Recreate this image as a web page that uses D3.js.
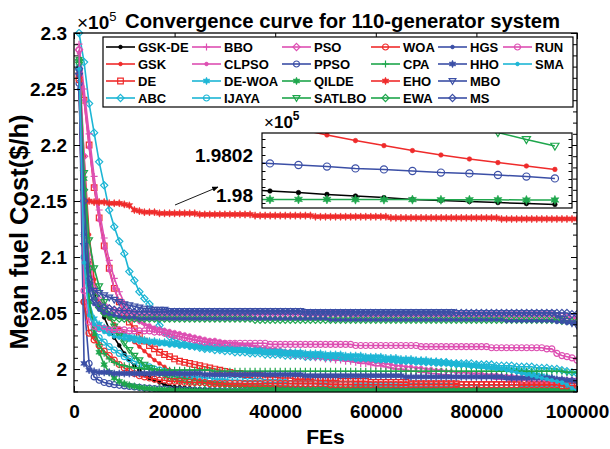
<!DOCTYPE html>
<html>
<head>
<meta charset="utf-8">
<script src="https://cdn.jsdelivr.net/npm/d3@7"></script>
<style>
  body { margin: 0; background: #fff; }
  svg { display: block; font-family: "Liberation Sans", Arial, sans-serif; font-weight: bold; }
</style>
</head>
<body>
<svg id="chart" width="610" height="449"></svg>
<script>
// FEs sampled every 1000 evaluations
var fes = [1000,2000,3000,4000,5000,6000,7000,8000,9000,10000,
  11000,12000,13000,14000,15000,16000,17000,18000,19000,20000,
  21000,22000,23000,24000,25000,26000,27000,28000,29000,30000,
  31000,32000,33000,34000,35000,36000,37000,38000,39000,40000,
  41000,42000,43000,44000,45000,46000,47000,48000,49000,50000,
  51000,52000,53000,54000,55000,56000,57000,58000,59000,60000,
  61000,62000,63000,64000,65000,66000,67000,68000,69000,70000,
  71000,72000,73000,74000,75000,76000,77000,78000,79000,80000,
  81000,82000,83000,84000,85000,86000,87000,88000,89000,90000,
  91000,92000,93000,94000,95000,96000,97000,98000,99000,100000];

// mean fuel cost, in units of 1e5 $/h
var gskde = [2.268,2.160,2.095,2.068,2.055,2.046,2.036,2.028,2.021,2.014,
  2.008,2.003,1.999,1.995,1.992,1.990,1.988,1.986,1.985,1.984,
  1.9838,1.9833,1.9829,1.9825,1.9822,1.9819,1.9816,1.9814,1.9812,1.9810,
  1.9808,1.9807,1.9806,1.9805,1.9805,1.9804,1.9804,1.9804,1.9803,1.9803,
  1.9803,1.9803,1.9803,1.9803,1.9803,1.9802,1.9802,1.9802,1.9802,1.9802,
  1.9802,1.9802,1.9802,1.9802,1.9802,1.9802,1.9802,1.9802,1.9802,1.9802,
  1.9802,1.9802,1.9802,1.9802,1.9802,1.9802,1.9802,1.9801,1.9801,1.9801,
  1.9801,1.9801,1.9801,1.9801,1.9801,1.9801,1.9801,1.9801,1.9801,1.9801,
  1.9801,1.9801,1.9801,1.9801,1.9800,1.9800,1.9800,1.9800,1.980028,1.98002,
  1.980012,1.980003,1.979995,1.979987,1.979978,1.979972,1.979967,1.979962,1.979957,1.979953];
var gsk = [2.270,2.190,2.120,2.080,2.060,2.050,2.045,2.040,2.036,2.032,
  2.028,2.024,2.020,2.016,2.012,2.008,2.005,2.002,1.999,1.997,
  1.995,1.993,1.992,1.991,1.990,1.989,1.988,1.987,1.9865,1.986,
  1.9855,1.985,1.9847,1.9844,1.9841,1.9839,1.9837,1.9835,1.9834,1.9833,
  1.9832,1.9830,1.9828,1.9826,1.9824,1.9822,1.9820,1.9818,1.9816,1.9815,
  1.9814,1.9813,1.9812,1.9811,1.9810,1.9809,1.9809,1.9808,1.9808,1.9808,
  1.9807,1.9807,1.9807,1.9807,1.9806,1.9806,1.9806,1.9806,1.9806,1.9806,
  1.9806,1.9806,1.9806,1.9806,1.9806,1.9805,1.9805,1.9805,1.9805,1.9805,
  1.98049,1.98048,1.98047,1.98046,1.98045,1.98044,1.98043,1.98042,1.98039,1.98036,
  1.98033,1.9803,1.980272,1.980247,1.980222,1.9802,1.98018,1.980162,1.980145,1.980128];
var de = [2.262,2.240,2.200,2.162,2.135,2.110,2.090,2.072,2.060,2.050,
  2.042,2.036,2.030,2.025,2.021,2.018,2.015,2.013,2.011,2.009,
  2.007,2.006,2.005,2.004,2.003,2.002,2.001,2.000,1.999,1.998,
  1.997,1.996,1.996,1.995,1.995,1.994,1.994,1.993,1.993,1.993,
  1.992,1.992,1.992,1.991,1.991,1.991,1.991,1.990,1.990,1.990,
  1.990,1.990,1.989,1.989,1.989,1.989,1.989,1.989,1.988,1.988,
  1.988,1.988,1.988,1.988,1.988,1.988,1.987,1.987,1.987,1.987,
  1.987,1.987,1.987,1.987,1.987,1.987,1.986,1.986,1.986,1.986,
  1.986,1.986,1.986,1.986,1.986,1.986,1.986,1.986,1.985,1.985,
  1.985,1.985,1.985,1.985,1.985,1.985,1.985,1.985,1.985,1.985];
var abc = [2.300,2.274,2.237,2.211,2.185,2.164,2.142,2.127,2.114,2.103,
  2.087,2.079,2.069,2.063,2.058,2.048,2.039,2.033,2.029,2.026,
  2.024,2.022,2.021,2.020,2.019,2.018,2.018,2.017,2.017,2.016,
  2.016,2.015,2.015,2.015,2.014,2.014,2.014,2.013,2.013,2.013,
  2.013,2.012,2.012,2.012,2.012,2.011,2.011,2.011,2.011,2.010,
  2.010,2.010,2.010,2.010,2.009,2.009,2.009,2.009,2.009,2.008,
  2.008,2.008,2.008,2.008,2.007,2.007,2.007,2.007,2.007,2.006,
  2.006,2.006,2.006,2.006,2.005,2.005,2.005,2.005,2.005,2.004,
  2.004,2.004,2.004,2.003,2.003,2.003,2.003,2.002,2.002,2.002,
  2.002,2.001,2.001,2.001,2.000,2.000,1.999,1.998,1.997,1.996];
var bbo = [2.290,2.250,2.210,2.172,2.142,2.117,2.097,2.081,2.069,2.059,
  2.052,2.047,2.043,2.040,2.037,2.035,2.033,2.032,2.031,2.030,
  2.029,2.028,2.027,2.026,2.025,2.024,2.023,2.023,2.022,2.021,
  2.020,2.020,2.019,2.018,2.018,2.017,2.016,2.016,2.015,2.015,
  2.014,2.014,2.013,2.012,2.012,2.011,2.011,2.010,2.010,2.009,
  2.009,2.008,2.008,2.007,2.007,2.006,2.005,2.005,2.004,2.003,
  2.003,2.002,2.001,2.000,2.000,1.999,1.998,1.998,1.997,1.997,
  1.996,1.996,1.995,1.995,1.994,1.994,1.994,1.993,1.993,1.993,
  1.992,1.992,1.992,1.991,1.991,1.991,1.990,1.990,1.990,1.990,
  1.989,1.989,1.989,1.989,1.988,1.988,1.988,1.988,1.988,1.988];
var clpso = [2.282,2.240,2.198,2.163,2.133,2.108,2.088,2.072,2.060,2.052,
  2.047,2.044,2.042,2.040,2.039,2.037,2.036,2.035,2.034,2.033,
  2.032,2.031,2.030,2.029,2.028,2.027,2.026,2.026,2.025,2.024,
  2.023,2.023,2.022,2.021,2.021,2.020,2.019,2.019,2.018,2.018,
  2.017,2.016,2.016,2.015,2.015,2.014,2.013,2.013,2.012,2.012,
  2.011,2.010,2.010,2.009,2.009,2.008,2.007,2.007,2.006,2.006,
  2.005,2.005,2.004,2.003,2.003,2.002,2.002,2.001,2.001,2.000,
  2.000,1.999,1.999,1.998,1.998,1.997,1.997,1.997,1.996,1.996,
  1.996,1.995,1.995,1.995,1.994,1.994,1.994,1.993,1.993,1.993,
  1.993,1.992,1.992,1.992,1.992,1.991,1.991,1.991,1.991,1.991];
var dewoa = [2.270,2.120,2.060,2.045,2.040,2.037,2.035,2.033,2.031,2.030,
  2.029,2.028,2.027,2.026,2.025,2.025,2.024,2.024,2.023,2.023,
  2.022,2.022,2.021,2.021,2.021,2.020,2.020,2.020,2.019,2.019,
  2.019,2.018,2.018,2.018,2.017,2.017,2.017,2.016,2.016,2.016,
  2.016,2.015,2.015,2.015,2.015,2.014,2.014,2.014,2.014,2.013,
  2.013,2.013,2.013,2.012,2.012,2.012,2.012,2.011,2.011,2.011,
  2.011,2.010,2.010,2.010,2.009,2.009,2.009,2.008,2.008,2.008,
  2.007,2.007,2.006,2.006,2.005,2.005,2.004,2.004,2.003,2.003,
  2.002,2.002,2.001,2.001,2.000,2.000,1.999,1.999,1.998,1.997,
  1.996,1.995,1.994,1.993,1.992,1.990,1.987,1.985,1.983,1.982];
var ijaya = [2.268,2.100,2.050,2.035,2.028,2.024,2.020,2.017,2.014,2.011,
  2.009,2.007,2.005,2.003,2.002,2.000,1.999,1.998,1.997,1.996,
  1.995,1.994,1.994,1.993,1.993,1.992,1.992,1.991,1.991,1.991,
  1.990,1.990,1.990,1.989,1.989,1.989,1.989,1.988,1.988,1.988,
  1.988,1.988,1.987,1.987,1.987,1.987,1.987,1.987,1.986,1.986,
  1.986,1.986,1.986,1.986,1.986,1.985,1.985,1.985,1.985,1.985,
  1.985,1.985,1.985,1.985,1.984,1.984,1.984,1.984,1.984,1.984,
  1.984,1.984,1.984,1.984,1.984,1.983,1.983,1.983,1.983,1.983,
  1.983,1.983,1.983,1.983,1.983,1.983,1.983,1.983,1.982,1.982,
  1.982,1.982,1.982,1.982,1.982,1.982,1.982,1.982,1.982,1.982];
var pso = [2.285,2.190,2.100,2.072,2.062,2.057,2.054,2.052,2.051,2.050,
  2.050,2.050,2.049,2.049,2.049,2.049,2.049,2.049,2.049,2.049,
  2.049,2.049,2.049,2.049,2.049,2.049,2.049,2.049,2.049,2.049,
  2.049,2.049,2.049,2.049,2.049,2.049,2.049,2.049,2.049,2.049,
  2.049,2.049,2.049,2.049,2.049,2.049,2.049,2.049,2.049,2.049,
  2.049,2.049,2.049,2.049,2.049,2.048,2.048,2.048,2.048,2.048,
  2.048,2.048,2.048,2.048,2.048,2.048,2.048,2.048,2.048,2.048,
  2.048,2.048,2.048,2.048,2.048,2.048,2.048,2.048,2.048,2.048,
  2.048,2.048,2.048,2.048,2.048,2.048,2.048,2.048,2.048,2.048,
  2.048,2.048,2.048,2.048,2.048,2.047,2.047,2.046,2.046,2.045];
var ppso = [2.255,2.060,2.005,1.993,1.990,1.988,1.987,1.986,1.9855,1.985,
  1.9845,1.984,1.9836,1.9832,1.9829,1.9826,1.9823,1.9820,1.9818,1.9816,
  1.9814,1.9812,1.9810,1.9809,1.9808,1.9807,1.9807,1.9806,1.9806,1.9806,
  1.9806,1.9806,1.9806,1.9806,1.9806,1.9806,1.9806,1.9806,1.9806,1.9806,
  1.9805,1.9805,1.9805,1.9805,1.9805,1.9805,1.9805,1.9805,1.9805,1.9805,
  1.9805,1.9805,1.9805,1.9805,1.9805,1.9804,1.9804,1.9804,1.9804,1.9804,
  1.9804,1.9804,1.9804,1.9803,1.9803,1.9803,1.9803,1.9803,1.9803,1.9803,
  1.9803,1.9803,1.9802,1.9802,1.9802,1.9802,1.9802,1.9802,1.9802,1.9802,
  1.9802,1.9802,1.9802,1.9802,1.9802,1.9802,1.9802,1.9802,1.980166,1.980158,
  1.98015,1.980142,1.980133,1.980128,1.98012,1.980112,1.980108,1.9801,1.980092,1.980083];
var qilde = [2.275,2.170,2.060,2.030,2.015,2.004,1.997,1.992,1.989,1.987,
  1.9855,1.9845,1.9837,1.9830,1.9825,1.9821,1.9818,1.9815,1.9813,1.9811,
  1.9810,1.9809,1.9808,1.9807,1.9806,1.9805,1.9805,1.9804,1.9804,1.9803,
  1.9803,1.9803,1.9802,1.9802,1.9802,1.9801,1.9801,1.9801,1.9801,1.9801,
  1.9801,1.98008,1.98007,1.98006,1.98005,1.98004,1.98004,1.98003,1.98003,1.98002,
  1.98002,1.98002,1.98001,1.98001,1.98001,1.98001,1.98,1.98,1.98,1.98,
  1.98,1.98,1.979998,1.979996,1.979994,1.979992,1.97999,1.979988,1.979986,1.979985,
  1.979984,1.979983,1.979982,1.979981,1.97998,1.97998,1.979979,1.979979,1.979979,1.979978,
  1.979978,1.979978,1.979978,1.979978,1.979978,1.979978,1.979978,1.979978,1.979978,1.979978,
  1.979978,1.979978,1.979977,1.979977,1.979977,1.979976,1.979976,1.979976,1.979975,1.979975];
var satlbo = [2.272,2.175,2.115,2.090,2.074,2.060,2.048,2.038,2.030,2.023,
  2.017,2.012,2.008,2.004,2.001,1.998,1.996,1.994,1.992,1.991,
  1.990,1.9893,1.9887,1.9881,1.9876,1.9871,1.9866,1.9862,1.9858,1.9854,
  1.9851,1.9848,1.9845,1.9842,1.9839,1.9837,1.9835,1.9833,1.9831,1.9829,
  1.9827,1.9826,1.9825,1.9824,1.9823,1.9822,1.9822,1.9821,1.9821,1.9820,
  1.98197,1.98193,1.98190,1.98186,1.98183,1.98179,1.98176,1.98172,1.98169,1.98165,
  1.98162,1.98158,1.98155,1.98151,1.98148,1.98144,1.98141,1.98137,1.98134,1.9813,
  1.98127,1.98123,1.9812,1.98116,1.98113,1.98109,1.98106,1.98102,1.98099,1.98095,
  1.98091,1.98088,1.98084,1.98081,1.98077,1.98074,1.9807,1.98067,1.98063,1.98059,
  1.980555,1.98052,1.980485,1.98045,1.980415,1.98038,1.980346,1.980312,1.980278,1.980245];
var woa = [2.258,2.060,2.032,2.026,2.021,2.016,2.012,2.008,2.004,2.001,
  1.998,1.996,1.994,1.993,1.992,1.991,1.990,1.990,1.989,1.989,
  1.989,1.988,1.988,1.988,1.988,1.988,1.987,1.987,1.987,1.987,
  1.987,1.987,1.987,1.987,1.987,1.987,1.987,1.987,1.987,1.987,
  1.987,1.987,1.987,1.987,1.987,1.987,1.987,1.987,1.987,1.987,
  1.986,1.986,1.986,1.986,1.986,1.986,1.986,1.986,1.986,1.986,
  1.986,1.986,1.986,1.986,1.986,1.986,1.986,1.986,1.986,1.986,
  1.986,1.986,1.986,1.986,1.986,1.986,1.986,1.986,1.986,1.986,
  1.986,1.986,1.986,1.986,1.986,1.986,1.986,1.986,1.986,1.986,
  1.986,1.986,1.986,1.986,1.986,1.986,1.985,1.985,1.985,1.985];
var cpa = [2.278,2.120,2.062,2.035,2.022,2.014,2.009,2.006,2.004,2.003,
  2.002,2.001,2.001,2.000,2.000,2.000,1.999,1.999,1.999,1.999,
  1.999,1.999,1.999,1.999,1.999,1.999,1.999,1.998,1.998,1.998,
  1.998,1.998,1.998,1.998,1.998,1.998,1.998,1.998,1.998,1.998,
  1.998,1.998,1.998,1.998,1.998,1.998,1.998,1.998,1.998,1.998,
  1.998,1.998,1.998,1.998,1.998,1.998,1.998,1.998,1.998,1.998,
  1.998,1.998,1.998,1.998,1.998,1.998,1.998,1.998,1.998,1.998,
  1.998,1.998,1.998,1.998,1.998,1.998,1.998,1.998,1.998,1.998,
  1.998,1.998,1.998,1.998,1.998,1.998,1.998,1.998,1.998,1.998,
  1.998,1.998,1.998,1.998,1.998,1.998,1.998,1.997,1.997,1.997];
var eho = [2.262,2.150,2.150,2.149,2.149,2.149,2.148,2.148,2.148,2.147,
  2.146,2.142,2.141,2.140,2.140,2.140,2.139,2.139,2.139,2.139,
  2.139,2.139,2.139,2.139,2.138,2.138,2.138,2.138,2.138,2.138,
  2.138,2.138,2.138,2.138,2.138,2.137,2.137,2.137,2.137,2.137,
  2.137,2.137,2.137,2.137,2.137,2.137,2.137,2.136,2.136,2.136,
  2.136,2.136,2.136,2.136,2.136,2.136,2.136,2.136,2.136,2.136,
  2.136,2.136,2.135,2.135,2.135,2.135,2.135,2.135,2.135,2.135,
  2.135,2.135,2.135,2.135,2.135,2.135,2.135,2.135,2.135,2.135,
  2.135,2.135,2.135,2.135,2.134,2.134,2.134,2.134,2.134,2.134,
  2.134,2.134,2.134,2.134,2.134,2.134,2.134,2.134,2.134,2.134];
var ewa = [2.276,2.160,2.090,2.065,2.055,2.050,2.047,2.046,2.045,2.045,
  2.045,2.045,2.045,2.045,2.045,2.045,2.045,2.045,2.045,2.045,
  2.045,2.045,2.045,2.045,2.045,2.045,2.045,2.045,2.045,2.045,
  2.045,2.045,2.045,2.045,2.045,2.044,2.044,2.044,2.044,2.044,
  2.044,2.044,2.044,2.044,2.044,2.044,2.044,2.044,2.044,2.044,
  2.044,2.044,2.044,2.044,2.044,2.044,2.044,2.044,2.044,2.044,
  2.044,2.044,2.044,2.044,2.044,2.044,2.044,2.044,2.044,2.044,
  2.044,2.044,2.044,2.044,2.044,2.044,2.044,2.044,2.044,2.044,
  2.044,2.044,2.044,2.044,2.044,2.044,2.044,2.044,2.044,2.044,
  2.044,2.044,2.044,2.044,2.044,2.044,2.043,2.043,2.042,2.042];
var hgs = [2.250,2.120,2.070,2.058,2.053,2.050,2.049,2.048,2.047,2.046,
  2.046,2.046,2.045,2.045,2.045,2.045,2.045,2.045,2.045,2.045,
  2.045,2.045,2.045,2.045,2.045,2.045,2.045,2.045,2.045,2.045,
  2.045,2.045,2.045,2.045,2.045,2.045,2.045,2.045,2.045,2.045,
  2.045,2.045,2.045,2.045,2.045,2.045,2.045,2.045,2.045,2.045,
  2.044,2.044,2.044,2.044,2.044,2.044,2.044,2.044,2.044,2.044,
  2.044,2.044,2.044,2.044,2.044,2.044,2.044,2.044,2.044,2.044,
  2.044,2.044,2.044,2.044,2.044,2.044,2.044,2.044,2.044,2.044,
  2.044,2.044,2.044,2.044,2.044,2.043,2.043,2.043,2.043,2.043,
  2.043,2.043,2.043,2.043,2.043,2.042,2.042,2.041,2.041,2.041];
var hho = [2.265,2.005,1.999,1.998,1.997,1.997,1.997,1.996,1.996,1.996,
  1.996,1.996,1.996,1.996,1.996,1.996,1.996,1.996,1.996,1.996,
  1.996,1.996,1.996,1.996,1.996,1.995,1.995,1.995,1.995,1.995,
  1.995,1.995,1.995,1.995,1.995,1.995,1.995,1.995,1.995,1.995,
  1.995,1.995,1.995,1.995,1.995,1.994,1.994,1.994,1.994,1.994,
  1.994,1.994,1.994,1.994,1.994,1.994,1.994,1.994,1.994,1.994,
  1.994,1.994,1.994,1.994,1.994,1.993,1.993,1.993,1.993,1.993,
  1.993,1.993,1.993,1.993,1.993,1.993,1.993,1.993,1.993,1.993,
  1.993,1.993,1.993,1.993,1.993,1.992,1.992,1.992,1.992,1.992,
  1.992,1.992,1.992,1.992,1.992,1.991,1.991,1.990,1.990,1.989];
var mbo = [2.262,2.110,2.075,2.070,2.068,2.066,2.064,2.062,2.060,2.058,
  2.057,2.056,2.055,2.054,2.054,2.053,2.053,2.053,2.052,2.052,
  2.052,2.052,2.052,2.052,2.052,2.052,2.052,2.052,2.052,2.052,
  2.052,2.052,2.052,2.052,2.052,2.052,2.052,2.052,2.052,2.052,
  2.052,2.052,2.052,2.052,2.052,2.051,2.051,2.051,2.051,2.051,
  2.051,2.051,2.051,2.051,2.051,2.051,2.051,2.051,2.051,2.051,
  2.051,2.051,2.051,2.051,2.051,2.051,2.051,2.051,2.051,2.051,
  2.051,2.051,2.051,2.051,2.051,2.050,2.050,2.050,2.050,2.050,
  2.050,2.050,2.050,2.050,2.050,2.050,2.050,2.050,2.050,2.050,
  2.050,2.050,2.050,2.050,2.050,2.048,2.045,2.043,2.041,2.039];
var ms = [2.268,2.150,2.080,2.062,2.057,2.055,2.054,2.053,2.052,2.052,
  2.052,2.051,2.051,2.051,2.051,2.051,2.051,2.051,2.051,2.051,
  2.051,2.051,2.051,2.051,2.051,2.051,2.051,2.051,2.051,2.051,
  2.051,2.051,2.051,2.051,2.051,2.051,2.051,2.051,2.051,2.051,
  2.051,2.051,2.051,2.051,2.051,2.050,2.050,2.050,2.050,2.050,
  2.050,2.050,2.050,2.050,2.050,2.050,2.050,2.050,2.050,2.050,
  2.050,2.050,2.050,2.050,2.050,2.050,2.050,2.050,2.050,2.050,
  2.050,2.050,2.050,2.050,2.050,2.050,2.050,2.050,2.050,2.050,
  2.050,2.050,2.050,2.050,2.050,2.050,2.050,2.050,2.050,2.050,
  2.050,2.050,2.050,2.050,2.050,2.050,2.050,2.050,2.049,2.049];
var run = [2.285,2.070,2.042,2.038,2.036,2.036,2.035,2.035,2.035,2.035,
  2.034,2.034,2.034,2.034,2.034,2.033,2.033,2.032,2.031,2.030,
  2.029,2.028,2.027,2.026,2.025,2.024,2.024,2.023,2.023,2.023,
  2.023,2.023,2.023,2.023,2.023,2.023,2.023,2.023,2.022,2.022,
  2.022,2.022,2.022,2.022,2.022,2.022,2.022,2.022,2.022,2.022,
  2.022,2.022,2.022,2.022,2.022,2.021,2.021,2.021,2.021,2.021,
  2.021,2.021,2.021,2.021,2.021,2.021,2.021,2.021,2.020,2.020,
  2.020,2.020,2.020,2.020,2.020,2.020,2.020,2.020,2.020,2.020,
  2.020,2.020,2.019,2.019,2.019,2.019,2.019,2.019,2.019,2.019,
  2.019,2.019,2.019,2.018,2.018,2.014,2.012,2.011,2.010,2.008];
var sma = [2.268,2.095,2.048,2.040,2.036,2.033,2.031,2.029,2.028,2.027,
  2.026,2.025,2.024,2.024,2.023,2.023,2.022,2.022,2.021,2.021,
  2.020,2.020,2.019,2.019,2.019,2.018,2.018,2.018,2.017,2.017,
  2.017,2.016,2.016,2.016,2.015,2.015,2.015,2.014,2.014,2.014,
  2.013,2.013,2.013,2.012,2.012,2.012,2.011,2.011,2.011,2.010,
  2.010,2.010,2.009,2.009,2.009,2.008,2.008,2.008,2.008,2.007,
  2.007,2.007,2.007,2.006,2.006,2.006,2.006,2.005,2.005,2.005,
  2.005,2.004,2.004,2.004,2.004,2.003,2.003,2.003,2.002,2.002,
  2.002,2.001,2.001,2.000,2.000,1.999,1.998,1.997,1.996,1.995,
  1.994,1.993,1.992,1.991,1.990,1.989,1.988,1.986,1.983,1.981];

var names = ["GSK-DE","GSK","DE","ABC","BBO","CLPSO","DE-WOA","IJAYA","PSO","PPSO","QILDE",
  "SATLBO","WOA","CPA","EHO","EWA","HGS","HHO","MBO","MS","RUN","SMA"];
var seriesValues = [gskde,gsk,de,abc,bbo,clpso,dewoa,ijaya,pso,ppso,qilde,
  satlbo,woa,cpa,eho,ewa,hgs,hho,mbo,ms,run,sma];

var xTicks = [0,20000,40000,60000,80000,100000];
var yMajor = [2,2.05,2.1,2.15,2.2,2.25,2.3];
var yMinor = [1.98,1.99,2.01,2.02,2.03,2.04,2.06,2.07,2.08,2.09,2.11,2.12,2.13,2.14,
  2.16,2.17,2.18,2.19,2.21,2.22,2.23,2.24,2.26,2.27,2.28,2.29];
var insetLabels = [1.98,1.9802];
var insetTicks = [1.97996,1.98,1.98004,1.98008,1.98012,1.98016,1.9802,1.98024,1.98028];

var RED = "#ef2b2b", PINK = "#dd4fb2", CYAN = "#1db6d5", GREEN = "#1ea64c", BLUE = "#3b4fa6";
var colors = ["#000",RED,RED,CYAN,PINK,PINK,CYAN,CYAN,PINK,BLUE,GREEN,
  GREEN,RED,GREEN,RED,GREEN,BLUE,BLUE,BLUE,BLUE,PINK,CYAN];
var markers = [".",".","s","d","+",".","h","o","d","o","h",
  "v","o","+","h","d",".","h","v","d","o","."];

function circlePath(r) {
  return "M" + r + ",0A" + r + "," + r + " 0 1,1 " + (-r) + ",0A" + r + "," + r + " 0 1,1 " + r + ",0Z";
}
function hexagramPath(ro, ri) {
  var p = [];
  for (var i = 0; i < 12; i++) {
    var a = Math.PI / 6 * i - Math.PI / 2, rr = i % 2 ? ri : ro;
    p.push((rr * Math.cos(a)).toFixed(2) + "," + (rr * Math.sin(a)).toFixed(2));
  }
  return "M" + p.join("L") + "Z";
}
function markerPath(m, k) {
  switch (m) {
    case "o": return circlePath(3 * k);
    case "s": return "M" + (-2.8 * k) + "," + (-2.8 * k) + "h" + 5.6 * k + "v" + 5.6 * k + "h" + (-5.6 * k) + "Z";
    case "d": return "M0," + (-3.6 * k) + "L" + 3.6 * k + ",0L0," + 3.6 * k + "L" + (-3.6 * k) + ",0Z";
    case "v": return "M" + (-3.4 * k) + "," + (-2.3 * k) + "L" + 3.4 * k + "," + (-2.3 * k) + "L0," + 3.4 * k + "Z";
    case "+": return "M" + (-3.5 * k) + ",0H" + 3.5 * k + "M0," + (-3.5 * k) + "V" + 3.5 * k;
    case "h": return hexagramPath(3.8 * k, 1.9 * k);
    default: return circlePath(1.9 * k);
  }
}
function filled(m) { return m == "." || m == "h"; }

function drawSeries(g, xs, ys, idx, k, lw) {
  var s = seriesValues[idx], col = colors[idx], m = markers[idx];
  var pts = s.map(function (v, i) { return [fes[i], v]; }).filter(function (p) { return p[0] >= xs.domain()[0] - 1000; });
  var line = d3.line().x(function (p) { return xs(p[0]); }).y(function (p) { return ys(p[1]); });
  g.append("path").attr("d", line(pts)).attr("fill", "none").attr("stroke", col).attr("stroke-width", lw);
  g.append("g").selectAll("path").data(pts).join("path")
    .attr("transform", function (p) { return "translate(" + xs(p[0]).toFixed(2) + "," + ys(p[1]).toFixed(2) + ")"; })
    .attr("d", markerPath(m, k))
    .attr("fill", filled(m) ? col : "none")
    .attr("stroke", col)
    .attr("stroke-width", filled(m) ? 0.6 : 1.2);
}

var svg = d3.select("#chart");
var L = 74, R = 577, T = 33, B = 392;
var x = d3.scaleLinear().domain([0, 100000]).range([L, R]);
var y = d3.scaleLinear().domain([1.9795, 2.3]).range([B, T]);

var defs = svg.append("defs");
defs.append("clipPath").attr("id", "plotClip").append("rect")
  .attr("x", L).attr("y", T - 4).attr("width", R - L).attr("height", B - T + 4);

// curves
var plot = svg.append("g").attr("clip-path", "url(#plotClip)");
for (var i = 0; i < names.length; i++) drawSeries(plot, x, y, i, 1, 1.6);

// axes, ticks pointing inward
function styleAxis(g) {
  g.select(".domain").remove();
  g.selectAll(".tick line").attr("stroke", "#000");
  g.selectAll("text").attr("fill", "#000").style("font-size", "19px").style("font-weight", "bold")
    .style("font-family", '"Liberation Sans", Arial, sans-serif');
}
svg.append("g").attr("transform", "translate(0," + B + ")")
  .call(d3.axisBottom(x).tickValues(xTicks).tickSize(-6).tickPadding(13).tickFormat(String)).call(styleAxis);
svg.append("g").attr("transform", "translate(0," + T + ")")
  .call(d3.axisTop(x).tickValues(xTicks).tickSize(-6).tickFormat("")).call(styleAxis);
svg.append("g").attr("transform", "translate(" + L + ",0)")
  .call(d3.axisLeft(y).tickValues(yMajor).tickSize(-6).tickPadding(7).tickFormat(String)).call(styleAxis);
svg.append("g").attr("transform", "translate(" + L + ",0)")
  .call(d3.axisLeft(y).tickValues(yMinor).tickSize(-4).tickFormat("")).call(styleAxis);
svg.append("g").attr("transform", "translate(" + R + ",0)")
  .call(d3.axisRight(y).tickValues(yMajor).tickSize(-6).tickFormat("")).call(styleAxis);
svg.append("g").attr("transform", "translate(" + R + ",0)")
  .call(d3.axisRight(y).tickValues(yMinor).tickSize(-4).tickFormat("")).call(styleAxis);
svg.append("rect").attr("x", L).attr("y", T).attr("width", R - L).attr("height", B - T)
  .attr("fill", "none").attr("stroke", "#000").attr("stroke-width", 1.3);

// titles
var exp = svg.append("text").attr("x", 77).attr("y", 29).style("font-size", "19px").style("font-weight", "normal");
exp.append("tspan").text("\u00d7");
exp.append("tspan").style("font-weight", "bold").text("10");
exp.append("tspan").attr("dy", -8).style("font-size", "13px").text("5");
svg.append("text").attr("x", 125).attr("y", 28).style("font-size", "20.3px")
  .text("Convergence curve for 110-generator system");
svg.append("text").attr("x", (L + R) / 2).attr("y", 444).attr("text-anchor", "middle")
  .style("font-size", "21px").text("FEs");
svg.append("text").attr("transform", "translate(28,232) rotate(-90)").attr("text-anchor", "middle")
  .style("font-size", "25.5px").text("Mean fuel Cost($/h)");

// legend
var legCols = [106, 192, 282, 371, 438, 503], legRows = [47, 64, 81, 98];
svg.append("rect").attr("x", 103).attr("y", 37).attr("width", 470).attr("height", 70)
  .attr("fill", "#fff").attr("stroke", "#000").attr("stroke-width", 1.2);
names.forEach(function (name, i) {
  var lx = legCols[Math.floor(i / 4)], ly = legRows[i % 4], m = markers[i];
  var g = svg.append("g");
  g.append("line").attr("x1", lx).attr("x2", lx + 29).attr("y1", ly).attr("y2", ly)
    .attr("stroke", colors[i]).attr("stroke-width", 1.6);
  g.append("path").attr("transform", "translate(" + (lx + 14.5) + "," + ly + ")")
    .attr("d", markerPath(m, 1)).attr("fill", filled(m) ? colors[i] : "none")
    .attr("stroke", colors[i]).attr("stroke-width", filled(m) ? 0.6 : 1.2);
  g.append("text").attr("x", lx + 32).attr("y", ly + 4.7).style("font-size", "13px").text(name);
});

// zoomed inset near the optimum
var IL = 262, IR = 572, IT = 133, IB = 208;
var ix = d3.scaleLinear().domain([89720, 100600]).range([IL, IR]);
var iy = d3.scaleLinear().domain([1.979935, 1.98031]).range([IB, IT]);
defs.append("clipPath").attr("id", "insetClip").append("rect")
  .attr("x", IL).attr("y", IT).attr("width", IR - IL).attr("height", IB - IT);
svg.append("rect").attr("x", IL).attr("y", IT).attr("width", IR - IL).attr("height", IB - IT).attr("fill", "#fff");
var inset = svg.append("g").attr("clip-path", "url(#insetClip)");
for (var j = 0; j < names.length; j++) drawSeries(inset, ix, iy, j, 1.2, 1.5);
svg.append("g").attr("transform", "translate(" + IL + ",0)")
  .call(d3.axisLeft(iy).tickValues(insetTicks).tickSize(-3.5).tickFormat("")).call(styleAxis);
svg.append("g").attr("transform", "translate(" + IR + ",0)")
  .call(d3.axisRight(iy).tickValues(insetTicks).tickSize(-3.5).tickFormat("")).call(styleAxis);
svg.append("g").attr("transform", "translate(" + (IL - 3) + ",0)")
  .call(d3.axisLeft(iy).tickValues(insetLabels).tickSize(0).tickPadding(6).tickFormat(String)).call(styleAxis);
svg.append("rect").attr("x", IL).attr("y", IT).attr("width", IR - IL).attr("height", IB - IT)
  .attr("fill", "none").attr("stroke", "#000").attr("stroke-width", 1.2);
var iexp = svg.append("text").attr("x", 264).attr("y", 128).style("font-size", "17px");
iexp.append("tspan").style("font-weight", "normal").text("\u00d7");
iexp.append("tspan").text("10");
iexp.append("tspan").attr("dy", -8).style("font-size", "12px").text("5");

// arrow pointing at the inset
defs.append("marker").attr("id", "arrowHead").attr("viewBox", "0 0 10 10").attr("refX", 9).attr("refY", 5)
  .attr("markerWidth", 7).attr("markerHeight", 7).attr("orient", "auto")
  .append("path").attr("d", "M0,1L10,5L0,9Z").attr("fill", "#000");
svg.append("line").attr("x1", 175).attr("y1", 205).attr("x2", 218).attr("y2", 187)
  .attr("stroke", "#000").attr("stroke-width", 0.9).attr("marker-end", "url(#arrowHead)");
</script>
</body>
</html>
